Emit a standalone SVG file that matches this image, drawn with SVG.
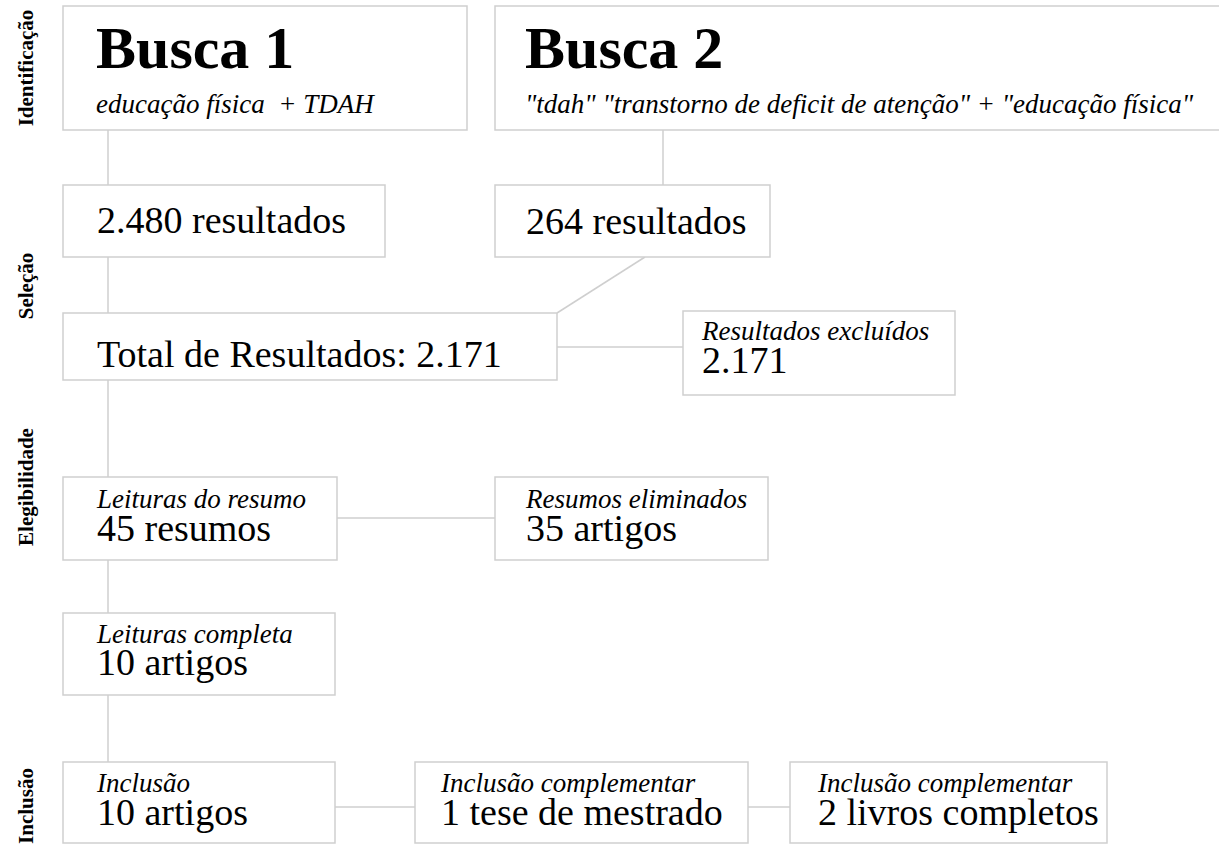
<svg xmlns="http://www.w3.org/2000/svg" width="1219" height="850" viewBox="0 0 1219 850">
<style>
.box{fill:#fff;stroke:#cfcfcf;stroke-width:1.5}
.con{stroke:#cfcfcf;stroke-width:1.5;fill:none}
.t{font-family:"Liberation Serif","Times New Roman",serif;fill:#000}
.title{font-size:60px;font-weight:bold}
.it{font-size:27px;font-style:italic}
.num{font-size:38px}
.side{font-size:21px;font-weight:bold;text-anchor:middle}
</style>
<rect width="1219" height="850" fill="#fff"/>
<g id="side-labels">
<text class="t side" transform="translate(33,68) rotate(-90)">Identificação</text>
<text class="t side" transform="translate(33,286) rotate(-90)">Seleção</text>
<text class="t side" transform="translate(33,487) rotate(-90)">Elegibilidade</text>
<text class="t side" transform="translate(33,806) rotate(-90)">Inclusão</text>
</g>
<g id="connectors">
<line class="con" x1="108" y1="130" x2="108" y2="185"/>
<line class="con" x1="108" y1="257" x2="108" y2="313"/>
<line class="con" x1="108" y1="380" x2="108" y2="477"/>
<line class="con" x1="108" y1="560" x2="108" y2="613"/>
<line class="con" x1="108" y1="695" x2="108" y2="762"/>
<line class="con" x1="663" y1="130" x2="663" y2="185"/>
<line class="con" x1="645" y1="257" x2="557" y2="313"/>
<line class="con" x1="557" y1="347" x2="683" y2="347"/>
<line class="con" x1="337" y1="518" x2="495" y2="518"/>
<line class="con" x1="335" y1="807" x2="415" y2="807"/>
<line class="con" x1="748" y1="807" x2="790" y2="807"/>
</g>
<g id="busca1">
<rect class="box" x="63" y="6" width="404" height="124"/>
<text class="t title" x="96" y="68">Busca 1</text>
<text class="t it" x="96" y="113" xml:space="preserve">educação física  + TDAH</text>
</g>
<g id="busca2">
<rect class="box" x="495" y="6" width="740" height="124"/>
<text class="t title" x="525" y="68">Busca 2</text>
<text class="t it" x="525" y="113">"tdah" "transtorno de deficit de atenção" + "educação física"</text>
</g>
<g id="res1">
<rect class="box" x="63" y="185" width="322" height="72"/>
<text class="t num" x="97" y="233">2.480 resultados</text>
</g>
<g id="res2">
<rect class="box" x="495" y="185" width="275" height="72"/>
<text class="t num" x="526" y="234">264 resultados</text>
</g>
<g id="total">
<rect class="box" x="63" y="313" width="494" height="67"/>
<text class="t num" x="97" y="367">Total de Resultados: 2.171</text>
</g>
<g id="excluidos">
<rect class="box" x="683" y="311" width="272" height="84"/>
<text class="t it" x="702" y="340">Resultados excluídos</text>
<text class="t num" x="702" y="373">2.171</text>
</g>
<g id="resumo">
<rect class="box" x="63" y="477" width="274" height="83"/>
<text class="t it" x="97" y="508">Leituras do resumo</text>
<text class="t num" x="97" y="541">45 resumos</text>
</g>
<g id="eliminados">
<rect class="box" x="495" y="477" width="273" height="83"/>
<text class="t it" x="526" y="508">Resumos eliminados</text>
<text class="t num" x="526" y="541">35 artigos</text>
</g>
<g id="completa">
<rect class="box" x="63" y="613" width="272" height="82"/>
<text class="t it" x="97" y="643">Leituras completa</text>
<text class="t num" x="97" y="675">10 artigos</text>
</g>
<g id="inclusao">
<rect class="box" x="63" y="762" width="272" height="81"/>
<text class="t it" x="97" y="792">Inclusão</text>
<text class="t num" x="97" y="825">10 artigos</text>
</g>
<g id="compl1">
<rect class="box" x="415" y="762" width="333" height="81"/>
<text class="t it" x="441" y="792">Inclusão complementar</text>
<text class="t num" x="441" y="825">1 tese de mestrado</text>
</g>
<g id="compl2">
<rect class="box" x="790" y="762" width="317" height="81"/>
<text class="t it" x="818" y="792">Inclusão complementar</text>
<text class="t num" x="818" y="825">2 livros completos</text>
</g>
</svg>
